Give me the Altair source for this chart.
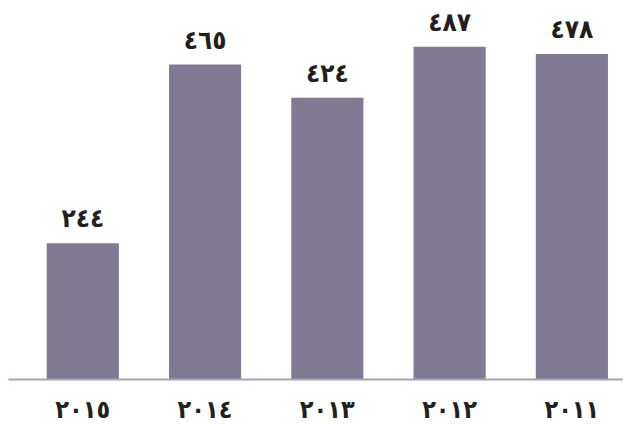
import altair as alt
import pandas as pd

years = ["٢٠١٥", "٢٠١٤", "٢٠١٣", "٢٠١٢", "٢٠١١"]
values = [244, 465, 424, 487, 478]
value_labels = ["٢٤٤", "٤٦٥", "٤٢٤", "٤٨٧", "٤٧٨"]
axis_min = 76
axis_max = 535

df = pd.DataFrame({"year": years, "value": values, "label": value_labels})

FONT = "DejaVu Sans Condensed"
x = alt.X("year:N", sort=years, title=None,
          scale=alt.Scale(paddingInner=0.41, paddingOuter=0.22, align=0.72),
          axis=alt.Axis(labelAngle=0, ticks=False, domainColor="#a3a3bb", domainWidth=2,
                        labelFont=FONT, labelFontSize=25, labelFontWeight="bold",
                        labelColor="#231f20", labelPadding=18, zindex=1))
y = alt.Y("value:Q", scale=alt.Scale(domain=[axis_min, axis_max], zero=False), axis=None)

bars = alt.Chart(df).mark_bar(color="#817a92").encode(x=x, y=y, y2=alt.datum(axis_min))
text = alt.Chart(df).mark_text(font=FONT, fontSize=26, fontWeight="bold", color="#231f20",
                               baseline="bottom", dy=-11).encode(x=x, y=y, text="label:N")

chart = (bars + text).properties(width=615, height=371, padding=0).configure_view(stroke=None)
chart.save("out.html", embed_options={"renderer": "svg", "actions": False})
